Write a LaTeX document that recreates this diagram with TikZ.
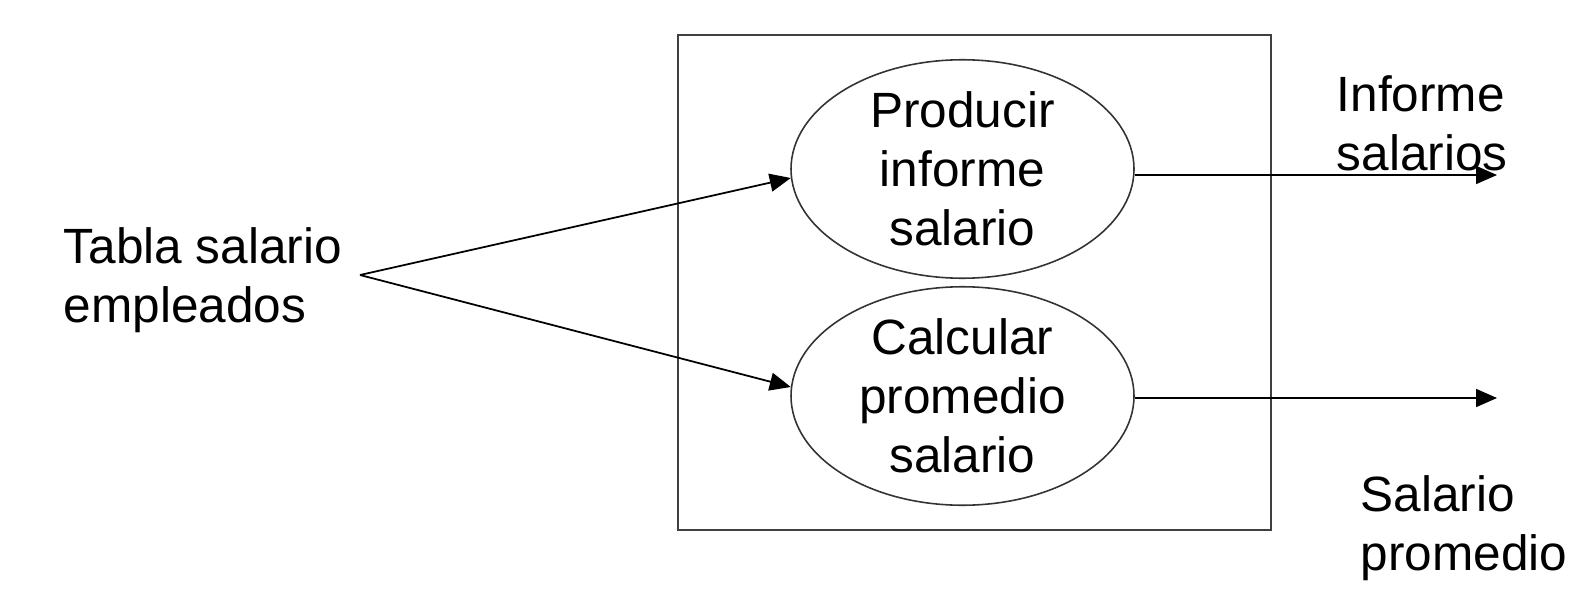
\documentclass[tikz,border=0pt]{standalone}
\usepackage{fontspec}
\setmainfont{Liberation Sans}
\usetikzlibrary{shapes.geometric,arrows.meta}

\tikzset{
    proceso/.style={ellipse, draw=black!80, line width=0.45pt, inner sep=0pt,
        minimum width=3.43cm, minimum height=2.11cm, align=center},
    flujo/.style={line width=0.5pt, black, -{Triangle[length=2.1mm, width=1.8mm]}},
    etiqueta/.style={draw=none, color=black, inner sep=0pt, align=left, anchor=west}
}

\begin{document}
\begin{tikzpicture}[font=\fontsize{14.1pt}{16.8pt}\selectfont]
        \useasboundingbox (0,0) rectangle (15.88,6.00);
        \coordinate (src) at (3.60, 3.25);
        \coordinate (out1) at (14.97, 4.25);
        \coordinate (out2) at (14.97, 2.02);
        % system box
        \draw[line width=0.7pt, black!75] (6.78, 0.70) rectangle (12.71, 5.65);
        % processes
        \node[proceso] (e1) at (9.625, 4.31) {Producir\\informe\\salario};
        \node[proceso] (e2) at (9.625, 2.04) {Calcular\\promedio\\salario};
        % data flows
        \draw[flujo] (src) -- (e1.183);
        \draw[flujo] (src) -- (e2.177);
        \draw[flujo] (e1.east |- out1) -- (out1);
        \draw[flujo] (e2.east |- out2) -- (out2);

        % Labels
        \node[etiqueta] (tabla) at (0.63, 3.20) {Tabla salario\\empleados};
        \node[etiqueta] (informe) at (13.36, 4.77) {Informe\\salarios};
        \node[etiqueta] (promedio) at (13.60, 0.72) {Salario\\promedio};
    \end{tikzpicture}
\end{document}
